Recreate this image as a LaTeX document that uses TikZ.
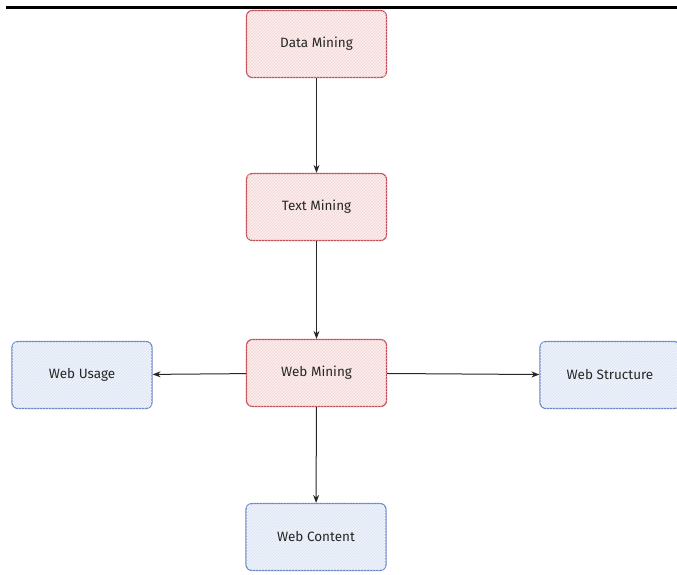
\documentclass[tikz,border=0pt]{standalone}
\usepackage{fontspec}
\setmainfont{Fira Sans}
\usetikzlibrary{arrows.meta,patterns}
\definecolor{redline}{RGB}{196,74,82}
\definecolor{redfill}{RGB}{253,238,238}
\definecolor{blueline}{RGB}{104,134,200}
\definecolor{bluefill}{RGB}{239,243,252}
\begin{document}
\begin{tikzpicture}[x=1pt,y=-1pt,
  box/.style={draw,line width=1.2pt,rounded corners=6pt,minimum width=140pt,minimum height=67pt,
    font=\fontsize{13.5}{16}\selectfont,text=black!85},
  redbox/.style={box,draw=redline,fill=redfill,postaction={pattern=north east lines,pattern color=redline!25}},
  bluebox/.style={box,draw=blueline,fill=bluefill,postaction={pattern=north east lines,pattern color=blueline!25}},
  arr/.style={-{Stealth[length=8pt,width=6pt]},line width=1pt,black!85}]
\useasboundingbox (0,0) rectangle (677,574);
\draw[line width=3pt](6,7)--(677,7);
%
\node[redbox](dm) at (316.5,44){Data Mining};
\node[redbox](tm) at (316.5,207){Text Mining};
\node[redbox](wm) at (316.5,373){Web Mining};
%
\node[bluebox](wu) at (82,375){Web Usage};
\node[bluebox](ws) at (610,375){Web Structure};
\node[bluebox](wc) at (316,537){Web Content};
%
\draw[arr](dm)--(tm);
\draw[arr](tm)--(wm);
\draw[arr](wm)--(wu);
\draw[arr](wm)--(ws);
\draw[arr](wm)--(wc);
\end{tikzpicture}
\end{document}
